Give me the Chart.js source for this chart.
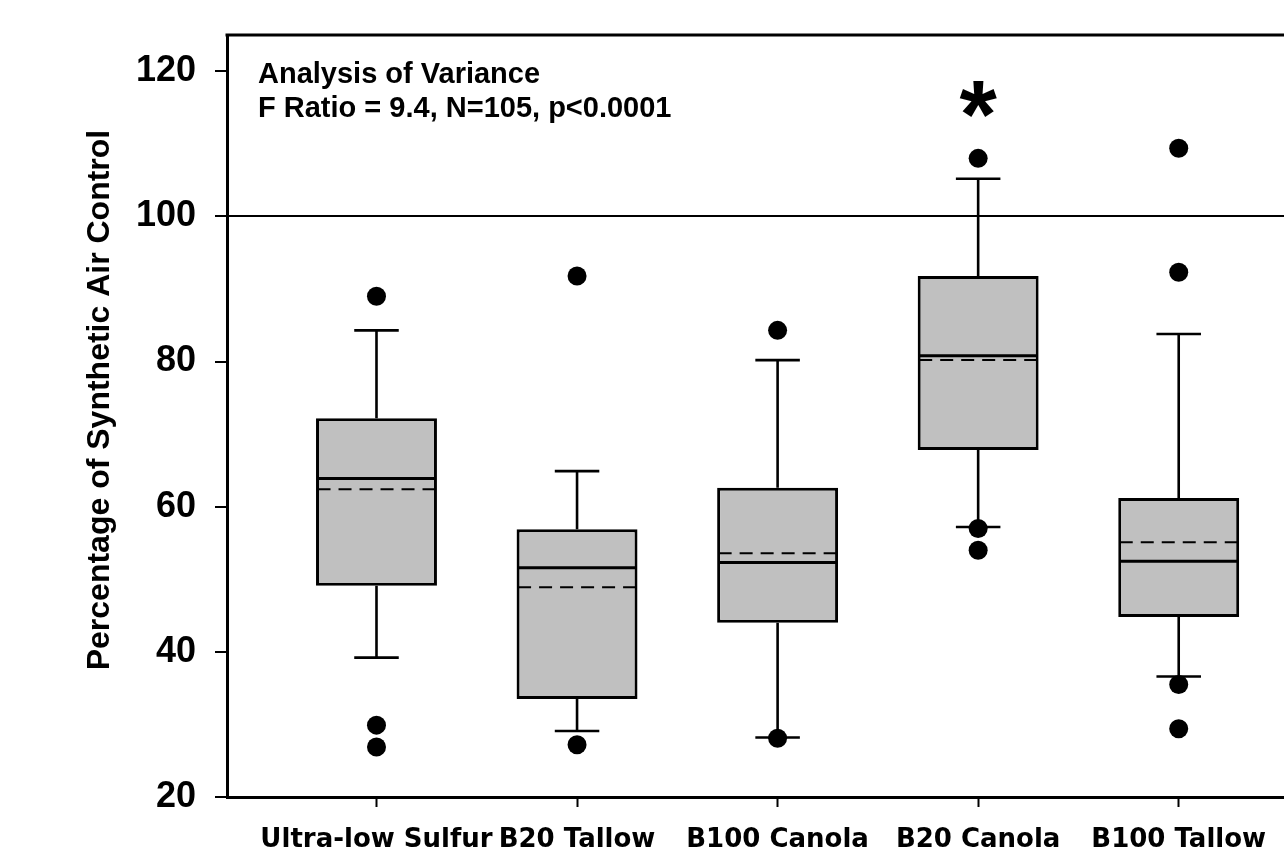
<!DOCTYPE html>
<html><head><meta charset="utf-8">
<script src="https://cdn.jsdelivr.net/npm/chart.js@4.4.1/dist/chart.umd.min.js"></script>
<style>html,body{margin:0;padding:0;background:#fff;overflow:hidden}canvas{display:block}</style>
</head><body>
<canvas id="c" width="1284" height="850"></canvas>
<script>
// ---- data ----
const categories = ['Ultra-low Sulfur', 'B20 Tallow', 'B100 Canola', 'B20 Canola', 'B100 Tallow'];
const q1 = [49.1, 33.5, 44.0, 67.8, 44.8];
const q3 = [72.2, 56.9, 62.6, 91.8, 61.2];
const medians = [63.9, 51.6, 52.3, 80.8, 52.5];
const means = [62.4, 48.9, 53.6, 80.2, 55.1];
const whiskerLow = [39.2, 29.1, 28.2, 57.2, 36.6];
const whiskerHigh = [84.3, 64.9, 80.2, 105.2, 83.8];
const outliers = [[89.0, 29.9, 26.9], [91.8, 27.2], [84.3, 28.1], [108.0, 57.0, 54.0], [109.4, 92.3, 35.5, 29.4]];
const yTickValues = [20, 40, 60, 80, 100, 120];
const referenceValue = 100;
const significance = ['', '', '', '*', ''];
const significanceValue = 116.2;
const yAxisTitle = 'Percentage of Synthetic Air Control';
const annotationLines = ['Analysis of Variance', 'F Ratio = 9.4, N=105, p<0.0001'];

const boxData = categories.map((c, i) => ({x: i + 1, y: [q1[i], q3[i]]}));
const outlierData = outliers.flatMap((arr, i) => arr.map(v => ({x: i + 1, y: v})));

const SANS = '"Liberation Sans", Arial, sans-serif';

const boxExtras = {
  id: 'boxExtras',
  beforeDatasetsDraw(chart) {
    const {ctx, scales: {x, y}} = chart;
    ctx.save();
    ctx.strokeStyle = '#000';
    ctx.lineWidth = 2.6;
    ctx.lineCap = 'butt';
    categories.forEach((c, i) => {
      const cx = x.getPixelForValue(i + 1);
      const half = x.getPixelForValue(i + 1.111) - cx;
      const yq1 = y.getPixelForValue(q1[i]), yq3 = y.getPixelForValue(q3[i]);
      const ylo = y.getPixelForValue(whiskerLow[i]), yhi = y.getPixelForValue(whiskerHigh[i]);
      ctx.beginPath();
      ctx.moveTo(cx, yq3); ctx.lineTo(cx, yhi);
      ctx.moveTo(cx - half, yhi); ctx.lineTo(cx + half, yhi);
      ctx.moveTo(cx, yq1); ctx.lineTo(cx, ylo);
      ctx.moveTo(cx - half, ylo); ctx.lineTo(cx + half, ylo);
      ctx.stroke();
    });
    ctx.restore();
  },
  afterDatasetsDraw(chart) {
    const {ctx, chartArea, scales: {x, y}} = chart;
    const meta = chart.getDatasetMeta(0);
    ctx.save();
    ctx.strokeStyle = '#000';
    meta.data.forEach((el, i) => {
      const l = el.x - el.width / 2 + 1.5, r = el.x + el.width / 2 - 1.5;
      const ym = y.getPixelForValue(medians[i]);
      ctx.setLineDash([]);
      ctx.lineWidth = 3;
      ctx.beginPath(); ctx.moveTo(l, ym); ctx.lineTo(r, ym); ctx.stroke();
      const ya = y.getPixelForValue(means[i]);
      ctx.setLineDash([13, 8]);
      ctx.lineWidth = 2;
      ctx.beginPath(); ctx.moveTo(l, ya); ctx.lineTo(r, ya); ctx.stroke();
    });
    ctx.setLineDash([]);
    // top frame
    ctx.lineWidth = 3;
    ctx.beginPath();
    ctx.moveTo(chartArea.left - 1.5, chartArea.top);
    ctx.lineTo(chartArea.right, chartArea.top);
    ctx.stroke();
    ctx.fillStyle = '#000';
    // y axis title
    ctx.save();
    ctx.translate(100, (chartArea.top + chartArea.bottom) / 2 - 16);
    ctx.rotate(-Math.PI / 2);
    ctx.font = 'bold 32px ' + SANS;
    ctx.textAlign = 'center';
    ctx.textBaseline = 'middle';
    ctx.fillText(yAxisTitle, 0, 0);
    ctx.restore();
    // annotation
    ctx.font = 'bold 29px ' + SANS;
    ctx.textAlign = 'left';
    ctx.textBaseline = 'alphabetic';
    annotationLines.forEach((t, k) => ctx.fillText(t, chartArea.left + 31, chartArea.top + 48 + k * 34));
    // significance marks
    ctx.font = 'bold 96px ' + SANS;
    ctx.textAlign = 'center';
    significance.forEach((s, i) => {
      if (!s) return;
      const m = ctx.measureText(s);
      const cy = y.getPixelForValue(significanceValue);
      ctx.fillText(s, x.getPixelForValue(i + 1), cy + (m.actualBoundingBoxAscent - m.actualBoundingBoxDescent) / 2);
    });
    ctx.restore();
  }
};

new Chart(document.getElementById('c'), {
  data: {
    datasets: [
      {type: 'bar', data: boxData, backgroundColor: '#c0c0c0', borderColor: '#000', borderWidth: 3,
       borderSkipped: false, barPercentage: 0.603, categoryPercentage: 1, order: 2},
      {type: 'scatter', data: outlierData, pointRadius: 9.5, pointHoverRadius: 9.5,
       backgroundColor: '#000', borderWidth: 0, order: 1}
    ]
  },
  options: {
    responsive: false,
    animation: false,
    devicePixelRatio: 1,
    layout: {autoPadding: false, padding: {top: 35, left: 0, right: 0, bottom: 0}},
    plugins: {legend: {display: false}, tooltip: {enabled: false}},
    scales: {
      x: {
        type: 'linear', min: 0.2546, max: 5.525, offset: false,
        afterBuildTicks: s => { s.ticks = categories.map((c, i) => ({value: i + 1})); },
        ticks: {
          callback: v => categories[Math.round(v) - 1] || '',
          font: {family: '"DejaVu Sans", sans-serif', size: 26, weight: 'bold'},
          color: '#000', padding: 18, maxRotation: 0, minRotation: 0, autoSkip: false
        },
        grid: {offset: false, drawOnChartArea: false, color: '#000', tickColor: '#000', tickLength: 10, tickWidth: 2},
        border: {display: true, color: '#000', width: 3},
        afterFit: s => { s.height = 53; s.paddingLeft = 0; s.paddingRight = 0; }
      },
      y: {
        type: 'linear', min: 20, max: 125,
        afterBuildTicks: s => { s.ticks = yTickValues.map(v => ({value: v})); },
        ticks: {font: {family: SANS, size: 36, weight: 'bold'}, color: '#000', padding: 19},
        grid: {
          color: c => (c.tick && c.tick.value === referenceValue) ? '#000' : 'rgba(0,0,0,0)',
          lineWidth: 2, tickColor: '#000', tickLength: 12, tickWidth: 2
        },
        border: {display: true, color: '#000', width: 3},
        afterFit: s => { s.width = 227; s.paddingTop = 0; s.paddingBottom = 0; }
      }
    }
  },
  plugins: [boxExtras]
});
</script>
</body></html>
